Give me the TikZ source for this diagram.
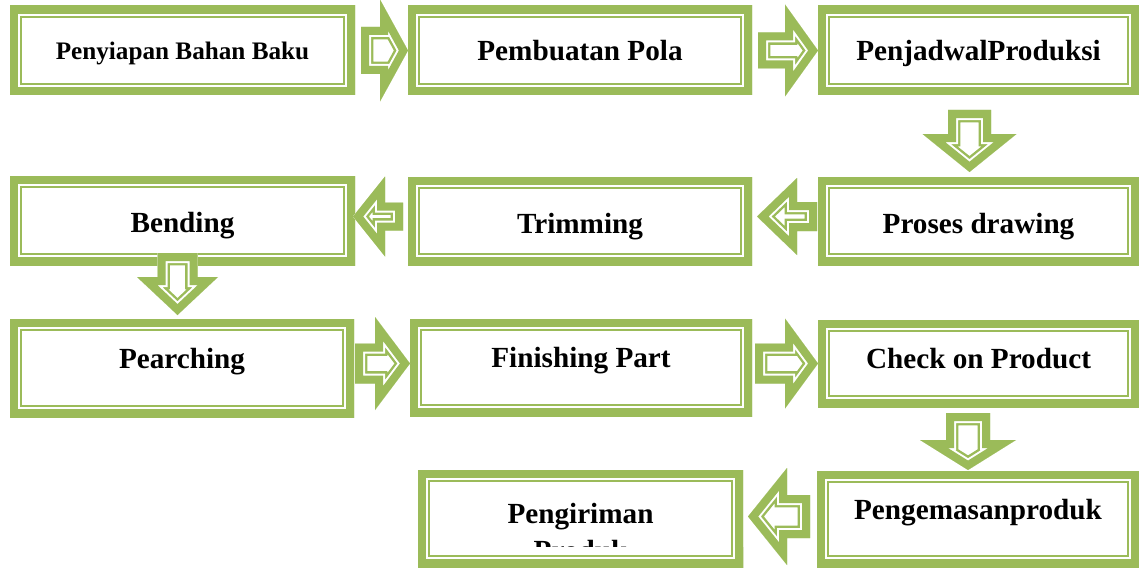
\documentclass[tikz,border=0pt]{standalone}
\usepackage{fontspec}
\setmainfont{Liberation Serif}
\usepackage{tikz}
\usetikzlibrary{calc}
\definecolor{leaf}{RGB}{155,187,89}

% thick-thin green frame, kept inside the path
\tikzset{
  dblframe/.style={fill=white, path picture={
      \draw[leaf, line width=12.4pt] (path picture bounding box.south west) rectangle (path picture bounding box.north east);
      \draw[white, line width=10pt] (path picture bounding box.south west) rectangle (path picture bounding box.north east);
      \draw[leaf, line width=8pt] (path picture bounding box.south west) rectangle (path picture bounding box.north east);
    }}
}

% block arrow: #1 angle, #2 tip, #3 length, #4 head length, #5 head half, #6 shaft half
\newcommand{\blockarrow}[6]{%
  \begin{scope}[shift={#2}, rotate=#1]
    \def\arrowoutline{(0,0) -- (-#4,#5) -- (-#4,#6) -- (-#3,#6) -- (-#3,-#6) -- (-#4,-#6) -- (-#4,-#5) -- cycle}
    \fill[white] \arrowoutline;
    \begin{scope}
      \clip \arrowoutline;
      \draw[leaf, line width=12.4pt] \arrowoutline;
      \draw[white, line width=10pt] \arrowoutline;
      \draw[leaf, line width=8pt] \arrowoutline;
    \end{scope}
  \end{scope}}

\begin{document}
\begin{tikzpicture}[
    x=0.5pt, y=-0.5pt,
    procbox/.style={dblframe, rectangle, inner sep=0pt, outer sep=0pt, align=center,
      font=\bfseries\fontsize{14.6}{18.5}\selectfont, text height=13.5pt, text depth=3pt}
  ]
  \useasboundingbox (0,0) rectangle (1139,567);

  % row 1
  \node[procbox, minimum width=172.5pt, minimum height=44.5pt,
        font=\bfseries\fontsize{12.6}{15}\selectfont, text height=11.8pt] (b1) at (182.5,50.5) {Penyiapan Bahan Baku};
  \node[procbox, minimum width=172pt, minimum height=44.5pt] (b2) at (580,50.5) {Pembuatan Pola};
  \node[procbox, minimum width=160.5pt, minimum height=44.5pt] (b3) at (978.5,50.5) {PenjadwalProduksi};

  % row 2
  \node[procbox, minimum width=160.5pt, minimum height=44pt, text depth=1.5pt] (b4) at (978.5,221) {Proses drawing};
  \node[procbox, minimum width=172pt, minimum height=44pt, text depth=1.5pt] (b5) at (580,221) {Trimming};
  \node[procbox, minimum width=172.5pt, minimum height=44.5pt, text depth=1.5pt] (b6) at (182.5,220.5) {Bending};

  % row 3
  \node[procbox, minimum width=172pt, minimum height=49pt, text depth=13.5pt] (b7) at (182,368) {Pearching};
  \node[procbox, minimum width=171pt, minimum height=48.5pt, text depth=13.5pt] (b8) at (581,367.5) {Finishing Part};
  \node[procbox, minimum width=160.5pt, minimum height=43.5pt, text depth=9pt] (b9) at (978.5,363.5) {Check on Product};

  % row 4
  \node[procbox, minimum width=161pt, minimum height=48pt, text depth=13.5pt] (b10) at (978,519) {Pengemasanproduk};
  \node[procbox, minimum width=162.5pt, minimum height=48.5pt, text height=44.5pt, text depth=3pt] (b11) at (580.5,518.5) {Pengiriman\\Produk};

  % second line of the last box runs into its frame
  \begin{scope}
    \clip ($(b11.south west)+(0,-20)$) rectangle (b11.south east);
    \fill[white] (b11.south west) rectangle (b11.north east);
    \draw[leaf, line width=12.4pt] (b11.south west) rectangle (b11.north east);
    \draw[white, line width=10pt] (b11.south west) rectangle (b11.north east);
    \draw[leaf, line width=8pt] (b11.south west) rectangle (b11.north east);
  \end{scope}

  % arrows
  \blockarrow{0}{(b2.west)}{47}{28}{51}{23.5}
  \blockarrow{0}{(b3.west)}{60}{33}{46}{18}
  \blockarrow{-90}{($(b4.north)+(-9,-5)$)}{62}{38}{47}{21.5}
  \blockarrow{180}{($(b5.east)+(5,-4.5)$)}{60}{40}{38.5}{14.5}
  \blockarrow{180}{($(b6.east)+(-2,-4)$)}{50}{32}{40}{14}
  \blockarrow{-90}{($(b7.north)+(-4.5,-4)$)}{62}{38}{40.5}{20}
  \blockarrow{0}{($(b8.west)+(0,-4)$)}{55}{35}{46.5}{20}
  \blockarrow{0}{(b9.west)}{63}{33}{45}{20}
  \blockarrow{-90}{($(b10.north)+(-10,-1)$)}{57}{30}{48}{22}
  \blockarrow{180}{($(b11.east)+(5,-2)$)}{62}{39}{48.5}{21.5}
\end{tikzpicture}
\end{document}
